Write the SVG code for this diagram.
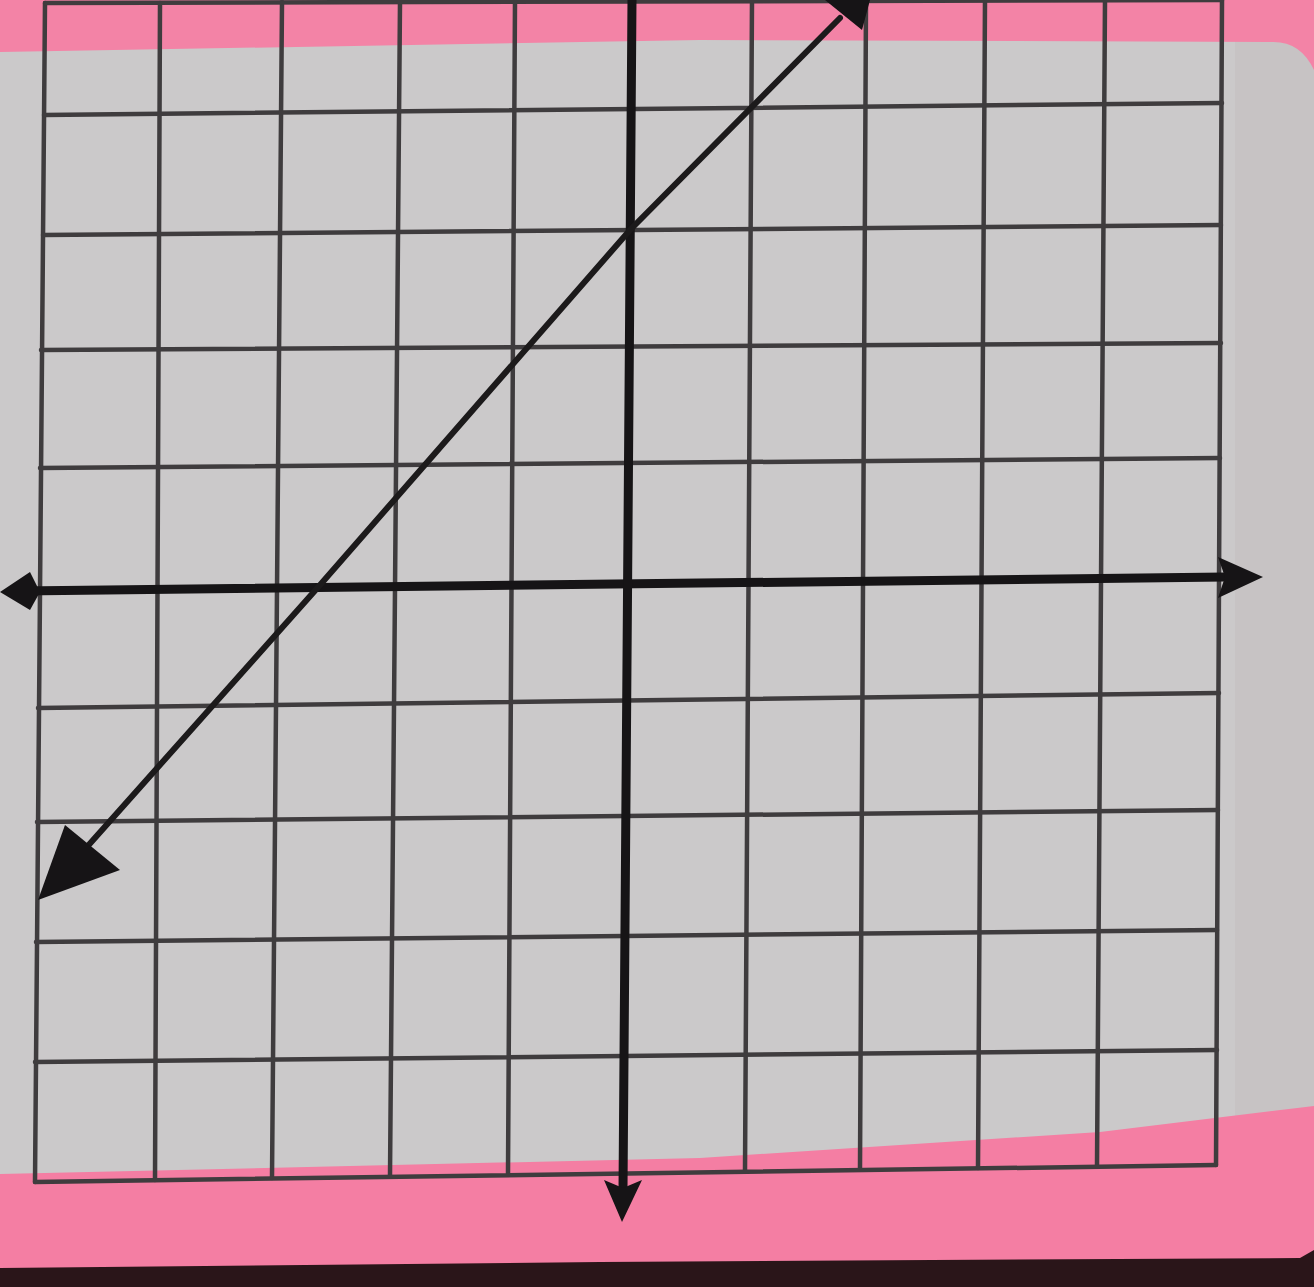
<svg xmlns="http://www.w3.org/2000/svg" width="1314" height="1287" viewBox="0 0 1314 1287">
<defs>
<style>
.g{stroke:#3f3c3e;stroke-width:4.5;fill:none;stroke-linecap:round}
.ax{stroke:#161416;stroke-width:9;fill:none;stroke-linecap:round}
.ln{stroke:#1c1a1b;stroke-width:6;fill:none;stroke-linecap:round}
.hd{fill:#161416}
</style>
</defs>
<rect x="0" y="0" width="1314" height="1287" fill="#cbc9ca"/>
<rect x="1235" y="0" width="79" height="1287" fill="#c7c3c4"/>
<path d="M0 0 H1314 V70 Q1300 40 1270 42 L700 40 L0 52 Z" fill="#f383a6"/>
<path d="M0 1174 L700 1158 L1100 1132 L1314 1106 V1287 H0 Z" fill="#f47ea3"/>
<path d="M0 1268 L600 1262 L1300 1258 L1314 1250 V1287 H0 Z" fill="#2a1519"/>
<g id="grid">
<path class="g" d="M45 3 L35 1182"/>
<path class="g" d="M160 3 L155 1180"/>
<path class="g" d="M282 2 L272 1178"/>
<path class="g" d="M400 2 L390 1176"/>
<path class="g" d="M515 1 L508 1174"/>
<path class="g" d="M752 0 L745 1170"/>
<path class="g" d="M866 0 L860 1169"/>
<path class="g" d="M985 0 L978 1168"/>
<path class="g" d="M1105 0 L1097 1166"/>
<path class="g" d="M1222 0 L1216 1165"/>
<path class="g" d="M45 3 L1222 0"/>
<path class="g" d="M44 115 L1222 103"/>
<path class="g" d="M43 235 L1221 225"/>
<path class="g" d="M41 350 L1221 343"/>
<path class="g" d="M40 468 L1220 458"/>
<path class="g" d="M38 708 L1219 693"/>
<path class="g" d="M37 822 L1218 810"/>
<path class="g" d="M36 942 L1217 930"/>
<path class="g" d="M35 1062 L1217 1050"/>
<path class="g" d="M35 1182 L1216 1165"/>
</g>
<g id="axes">
<path class="ax" d="M20 591 L1225 577"/>
<path class="hd" d="M0 592 L30 572 L40 592 L30 610 Z"/>
<path class="hd" d="M1263 577 L1218 557 L1225 577 L1218 598 Z"/>
<path class="ax" d="M632 0 L623 1190"/>
<path class="hd" d="M622 1222 L604 1180 L623 1188 L642 1180 Z"/>
</g>
<g id="line">
<polyline class="ln" points="70,866 320,585 630,230 840,18"/>
<path class="hd" d="M38 900 L120 870 L65 825 Z"/>
<path class="hd" d="M825 0 L870 0 L862 30 Z"/>
</g>
</svg>
